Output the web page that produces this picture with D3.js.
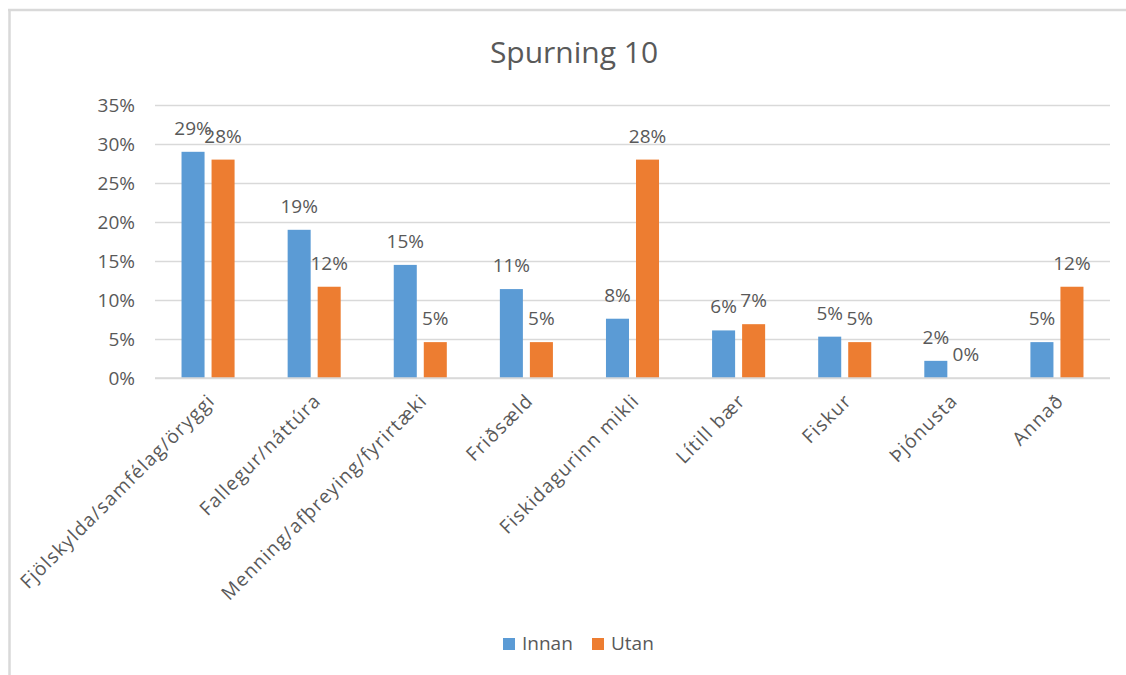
<!DOCTYPE html>
<html>
<head>
<meta charset="utf-8">
<script src="https://cdn.jsdelivr.net/npm/d3@7"></script>
<style>
  body { margin: 0; background: #fff; }
  text { font-family: "Open Sans", sans-serif; fill: #595959; }
</style>
</head>
<body>
<svg id="chart" width="1126" height="675"></svg>
<script>
const categories = [
  'Fjölskylda/samfélag/öryggi', 'Fallegur/náttúra', 'Menning/afþreying/fyrirtæki',
  'Friðsæld', 'Fiskidagurinn mikli', 'Lítill bær', 'Fiskur', 'Þjónusta', 'Annað'
];
const seriesNames = ['Innan', 'Utan'];
const innan = [29, 19, 14.5, 11.4, 7.6, 6.1, 5.3, 2.2, 4.6];
const utan = [28, 11.7, 4.6, 4.6, 28, 6.9, 4.6, 0, 11.7];
const yTicks = [0, 5, 10, 15, 20, 25, 30, 35];
const colors = ['#5b9bd5', '#ed7d31'];

const svg = d3.select('#chart');

// chart frame (only top and left edges show in the picture)
svg.append('line').attr('x1', 8).attr('x2', 1126).attr('y1', 10).attr('y2', 10)
    .attr('stroke', '#d9d9d9').attr('stroke-width', 2.5);
svg.append('line').attr('x1', 9.5).attr('x2', 9.5).attr('y1', 10).attr('y2', 675)
    .attr('stroke', '#d9d9d9').attr('stroke-width', 2.5);

const x = d3.scaleBand()
    .domain(categories)
    .range([155, 1110]);

const x1 = d3.scaleBand()
    .domain(seriesNames)
    .range([x.bandwidth() * 0.25, x.bandwidth() * 0.75])
    .paddingInner(0.233);

const y = d3.scaleLinear()
    .domain([0, 35])
    .range([378, 105]);

svg.append('text')
    .attr('x', 574).attr('y', 63)
    .attr('text-anchor', 'middle')
    .style('font-size', '30px')
    .text('Spurning 10');

// gridlines + y labels
const yAxis = svg.append('g')
    .attr('transform', 'translate(155,0)')
    .call(d3.axisLeft(y).tickValues(yTicks)
      .tickSize(-(1110 - 155))
      .tickPadding(20)
      .tickFormat(d => d + '%'));
yAxis.select('.domain').remove();
yAxis.selectAll('.tick line').attr('stroke', '#d9d9d9').attr('stroke-width', 1.3);
yAxis.selectAll('.tick text')
    .style('font-size', '19px')
    .style('font-family', '"Open Sans", sans-serif')
    .attr('fill', '#595959');

const rows = categories.map((c, i) => ({ cat: c, vals: [innan[i], utan[i]] }));

const groups = svg.selectAll('g.cat')
  .data(rows)
  .enter().append('g')
    .attr('class', 'cat')
    .attr('transform', d => `translate(${x(d.cat)},0)`);

groups.selectAll('rect')
  .data(d => d.vals.map((v, j) => ({ s: seriesNames[j], v, j })))
  .enter().append('rect')
    .attr('x', d => x1(d.s))
    .attr('y', d => y(d.v))
    .attr('width', x1.bandwidth())
    .attr('height', d => y(0) - y(d.v))
    .attr('fill', d => colors[d.j]);

groups.selectAll('text.val')
  .data(d => d.vals.map((v, j) => ({ s: seriesNames[j], v, j })))
  .enter().append('text')
    .attr('class', 'val')
    .attr('x', d => x1(d.s) + x1.bandwidth() / 2)
    .attr('y', d => y(d.v) - 17)
    .attr('text-anchor', 'middle')
    .style('font-size', '19px')
    .text(d => Math.round(d.v) + '%');

// x axis line
svg.append('line')
    .attr('x1', 155).attr('x2', 1110)
    .attr('y1', y(0)).attr('y2', y(0))
    .attr('stroke', '#d9d9d9').attr('stroke-width', 1.3);

// rotated category labels
svg.selectAll('text.cat')
  .data(categories)
  .enter().append('text')
    .attr('class', 'cat')
    .attr('text-anchor', 'end')
    .attr('transform', d => `translate(${x(d) + x.bandwidth() / 2 + 8},402) rotate(-45)`)
    .style('font-size', '19px')
    .style('letter-spacing', '1.2px')
    .text(d => d);

// legend
const legend = svg.append('g').attr('transform', 'translate(503,0)');
const legendX = [0, 89];
seriesNames.forEach((s, i) => {
  legend.append('rect')
      .attr('x', legendX[i]).attr('y', 638)
      .attr('width', 12).attr('height', 12)
      .attr('fill', colors[i]);
  legend.append('text')
      .attr('x', legendX[i] + 19).attr('y', 650)
      .style('font-size', '19px')
      .text(s);
});
</script>
</body>
</html>
